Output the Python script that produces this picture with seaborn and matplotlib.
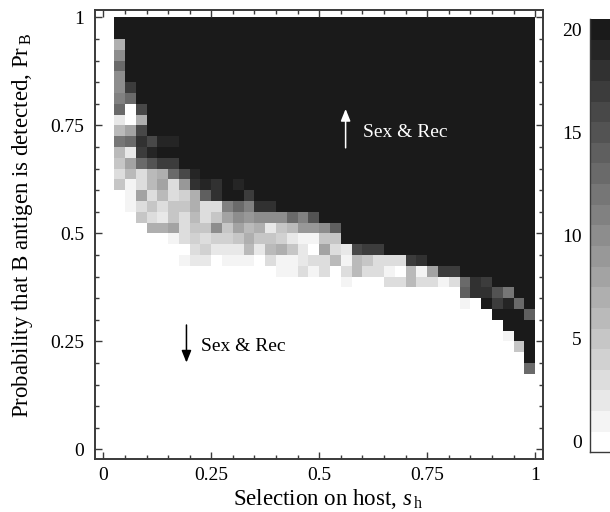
import numpy as np
import matplotlib
matplotlib.use("Agg")
import matplotlib.pyplot as plt
from matplotlib.colors import LinearSegmentedColormap
from matplotlib.ticker import FixedLocator
import seaborn as sns

# Each row is a band of PrB from 1 downwards; each column a band of sh from 0.025 to 1.
r00 = [20] * 39
r01 = [20] * 39
r02 = [7] + [20] * 38
r03 = [10] + [20] * 38
r04 = [13] + [20] * 38
r05 = [10] + [20] * 38
r06 = [10, 17] + [20] * 37
r07 = [11, 13] + [20] * 37
r08 = [13, 0, 16, 20] + [20] * 35
r09 = [2, 0, 7, 20] + [20] * 35
r10 = [6, 8, 16, 20] + [20] * 35
r11 = [12, 13, 18, 16, 19, 19] + [20] * 33
r12 = [6, 2, 17, 19, 20, 20] + [20] * 33
r13 = [5, 8, 13, 15, 17, 17] + [20] * 33
r14 = [3, 6, 3, 6, 7, 13, 16, 19] + [20] * 31
r15 = [5, 1, 3, 6, 8, 3, 9, 18, 19, 18, 20, 19] + [20] * 27
r16 = [0, 1, 8, 3, 6, 3, 4, 7, 14, 18, 20, 20, 17] + [20] * 26
r17 = [0, 1, 3, 5, 3, 5, 5, 7, 3, 3, 11, 13, 11, 18, 18] + [20] * 24
r18 = [0, 0, 5, 3, 2, 5, 3, 6, 3, 5, 8, 10, 9, 10, 10, 10, 13, 11, 15] + [20] * 20
r19 = [0] * 3 + [7, 7, 8, 3, 5, 5, 10, 5, 8, 6, 7, 2, 5, 6, 9, 9, 10, 14] + [20] * 18
r20 = [0] * 5 + [1, 3, 4, 3, 4, 4, 5, 7, 5, 5, 4, 2, 1, 1, 5, 5] + [20] * 18
r21 = [0] * 7 + [3, 4, 2, 2, 2, 6, 2, 6, 7, 5, 2, 0, 8, 3, 2, 16, 17, 17] + [20] * 14
r22 = [0] * 6 + [1, 2, 2, 0, 1, 1, 1, 0, 3, 1, 1, 2, 3, 3, 6, 1, 6, 5, 3, 3, 3, 17, 18] + [20] * 10
r23 = [0] * 15 + [1, 1, 3, 1, 3, 0, 3, 6, 3, 3, 1, 0, 6, 1, 8, 17, 17] + [20] * 7
r24 = [0] * 21 + [1, 0, 0, 0, 3, 3, 6, 3, 3, 1, 3, 13, 18, 17] + [20] * 4
r25 = [0] * 32 + [14, 18, 18, 15, 12, 20, 20]
r26 = [0] * 32 + [1, 0, 20, 17, 19, 13, 20]
r27 = [0] * 35 + [20, 20, 20, 14]
r28 = [0] * 36 + [20, 20, 20]
r29 = [0] * 36 + [1, 20, 20]
r30 = [0] * 37 + [5, 20]
r31 = [0] * 38 + [20]
r32 = [0] * 38 + [13]
rows = [r00, r01, r02, r03, r04, r05, r06, r07, r08, r09, r10, r11, r12, r13, r14, r15, r16,
        r17, r18, r19, r20, r21, r22, r23, r24, r25, r26, r27, r28, r29, r30, r31, r32]

sh_ticks = [0, 0.25, 0.5, 0.75, 1]
sh_labels = ["0", "0.25", "0.5", "0.75", "1"]
pr_ticks = [0, 0.25, 0.5, 0.75, 1]
pr_labels = ["0", "0.25", "0.5", "0.75", "1"]
bar_levels = list(range(20, -1, -1))
bar_ticks = [20, 15, 10, 5, 0]

W, H = 610, 512
plt.rcParams["font.family"] = ["Liberation Serif", "DejaVu Serif"]
plt.rcParams["mathtext.fontset"] = "custom"
plt.rcParams["mathtext.rm"] = "Liberation Serif"
plt.rcParams["mathtext.it"] = "Liberation Serif:italic"

N = 40
grid = np.zeros((N, N))
for i, row in enumerate(rows):
    grid[i, 1:] = row

cmap = LinearSegmentedColormap.from_list("g", ["#ffffff", "#1a1a1a"], N=21)
dark = "#3a3a3a"

fig = plt.figure(figsize=(W / 100, H / 100), dpi=100, facecolor="white")
L, R, T, B = 95, 543, 9.8, 458.5
ax = fig.add_axes([L / W, 1 - B / H, (R - L) / W, (B - T) / H])
sns.heatmap(grid, ax=ax, cmap=cmap, vmin=-0.5, vmax=20.5, cbar=False, linewidths=0)

to_x = lambda s: np.asarray(s) * N
to_y = lambda p: (1 - np.asarray(p)) * N
ax.set_xlim(-0.77, 40.72)
ax.set_ylim(40.84, -0.70)
ax.set_xticks(to_x(sh_ticks))
ax.set_xticklabels(sh_labels, rotation=0)
ax.set_yticks(to_y(pr_ticks))
ax.set_yticklabels(pr_labels, rotation=0, va="center_baseline")
minor = np.arange(0, 1.0001, 0.05)
ax.xaxis.set_minor_locator(FixedLocator(to_x(minor)))
ax.yaxis.set_minor_locator(FixedLocator(to_y(minor)))
ax.tick_params(which="major", direction="in", length=5, width=1, color=dark, top=True, right=True,
               labelsize=14)
ax.tick_params(axis="x", which="major", pad=6)
ax.tick_params(axis="y", which="major", pad=8)
ax.tick_params(which="minor", direction="in", length=3, width=1, color=dark, top=True, right=True)
for s in ax.spines.values():
    s.set_visible(True)
    s.set_color(dark)
    s.set_linewidth(1.4)
ax.set_xlabel(r"Selection on host, $s\,_{\mathrm{h}}$", fontsize=16.5, labelpad=0)
ax.set_ylabel(r"Probability that B antigen is detected, Pr$\,_{\mathrm{B}}$", fontsize=16.5)
ax.yaxis.set_label_coords((35 - L) / (R - L), (B - 225.5) / (B - T))
ax.xaxis.set_label_coords((328 - L) / (R - L), (B - 487) / (B - T))

head = "-|>,head_width=0.29,head_length=0.72"
ax.annotate("", xy=(to_x(0.561), to_y(0.788)), xytext=(to_x(0.561), to_y(0.698)),
            arrowprops=dict(arrowstyle=head, color="white", lw=1.1, mutation_scale=10,
                            shrinkA=0, shrinkB=0))
ax.text(to_x(0.601), to_y(0.722), "Sex & Rec", color="white", fontsize=14, va="baseline", ha="left")
ax.annotate("", xy=(to_x(0.1925), to_y(0.201)), xytext=(to_x(0.1925), to_y(0.288)),
            arrowprops=dict(arrowstyle=head, color="black", lw=1.1, mutation_scale=10,
                            shrinkA=0, shrinkB=0))
ax.text(to_x(0.2255), to_y(0.2287), "Sex & Rec", color="black", fontsize=14, va="baseline", ha="left")

cax = fig.add_axes([590 / W, 1 - 452.3 / H, 22 / W, (452.3 - 19) / H])
sns.heatmap(np.array(bar_levels).reshape(-1, 1), ax=cax, cmap=cmap, vmin=-0.5, vmax=20.5, cbar=False, linewidths=0)
cax.set_xticks([])
cax.set_yticks([bar_levels.index(v) + 0.5 for v in bar_ticks])
cax.set_yticklabels([str(v) for v in bar_ticks], rotation=0, va="center_baseline")
cax.tick_params(axis="y", length=0, labelsize=14, pad=6)
for k in ("left", "bottom"):
    cax.spines[k].set_visible(True)
    cax.spines[k].set_color(dark)
    cax.spines[k].set_linewidth(1.0)

fig.savefig("out.png", dpi=100, facecolor="white")
